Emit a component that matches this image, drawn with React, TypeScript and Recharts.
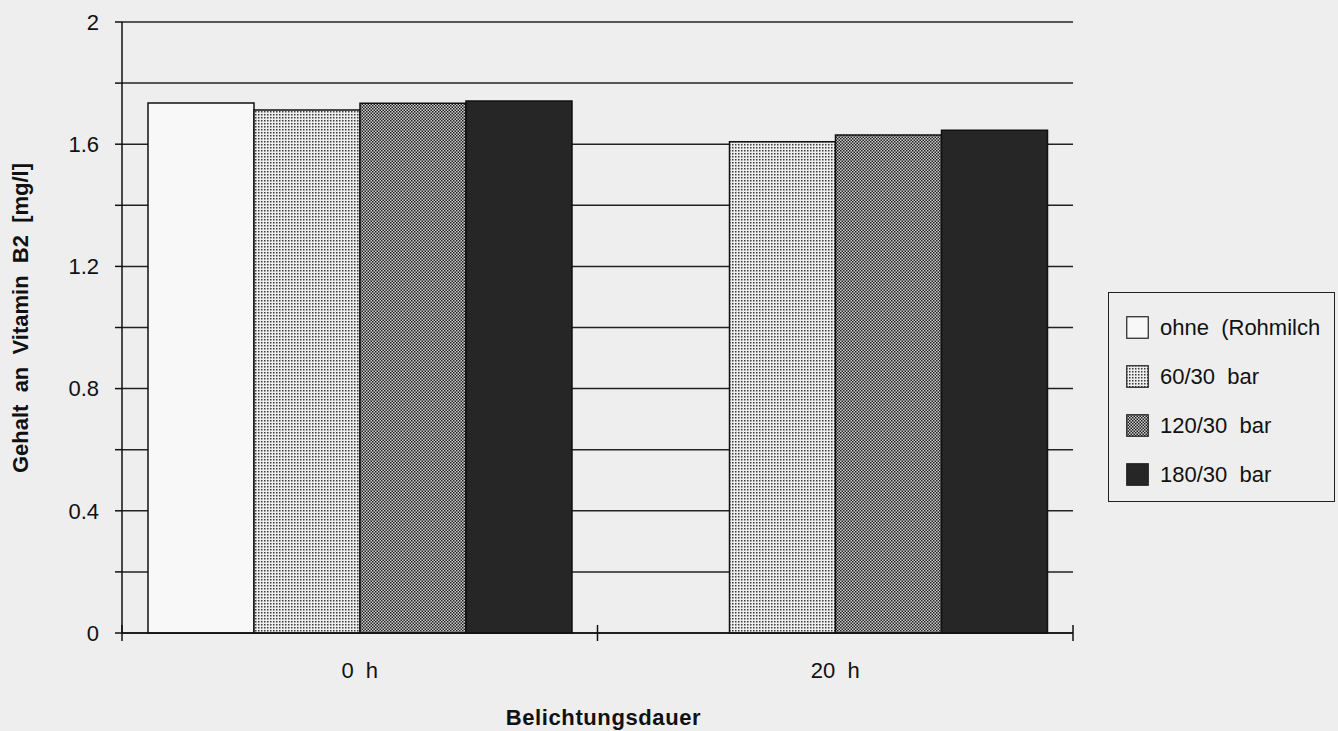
import React from 'react';
import { BarChart, Bar, XAxis, YAxis, CartesianGrid } from 'recharts';

const categories = ['0 h', '20 h'];
const ohneRohmilch = [1.735, null];
const bar60 = [1.712, 1.608];
const bar120 = [1.734, 1.63];
const bar180 = [1.741, 1.646];
const yTicks = [0, 0.2, 0.4, 0.6, 0.8, 1.0, 1.2, 1.4, 1.6, 1.8, 2.0];

const seriesNames = ['ohne  (Rohmilch', '60/30  bar', '120/30  bar', '180/30  bar'];
const seriesKeys = ['ohne', 'b60', 'b120', 'b180'];
const seriesFills = ['#f8f8f8', 'url(#p60)', 'url(#p120)', '#262626'];

const data = categories.map((c, i) => ({
    name: c,
    ohne: ohneRohmilch[i],
    b60: bar60[i],
    b120: bar120[i],
    b180: bar180[i],
}));

const FONT = '"Liberation Sans", Arial, Helvetica, sans-serif';
const BG = '#eeeeee';

const XTick = (props: any) => {
    const { x, y, payload } = props;
    const half = payload && payload.offset ? payload.offset : 237.75;
    const last = payload.value === categories[categories.length - 1];
    return (
        <g>
            <line x1={x - half} x2={x - half} y1={y - 8} y2={y + 8} stroke="#111" strokeWidth={1.5} />
            {last && <line x1={x + half} x2={x + half} y1={y - 8} y2={y + 8} stroke="#111" strokeWidth={1.5} />}
            <text x={x} y={y + 45} textAnchor="middle" fontSize={22} fontFamily={FONT} fill="#111" xmlSpace="preserve">
                {String(payload.value).replace(' ', '  ')}
            </text>
        </g>
    );
};

const YLabel = () => (
    <text
        x={28}
        y={318}
        transform="rotate(-90, 28, 318)"
        textAnchor="middle"
        fontSize={22}
        fontWeight="bold"
        fontFamily={FONT}
        fill="#111"
        xmlSpace="preserve"
    >
        {'Gehalt  an  Vitamin  B2  [mg/l]'}
    </text>
);

function LegendBox() {
    return (
        <div
            style={{
                position: 'absolute',
                left: 1108,
                top: 292,
                width: 227,
                height: 210,
                border: '1.5px solid #222',
                boxSizing: 'border-box',
                paddingTop: 10,
                paddingLeft: 17,
                fontFamily: FONT,
                fontSize: 22,
                color: '#111',
            }}
        >
            {seriesNames.map((n, i) => (
                <div key={n} style={{ display: 'flex', alignItems: 'center', height: 49 }}>
                    <svg width={23} height={23} style={{ marginRight: 11 }}>
                        <rect x={0.75} y={0.75} width={21.5} height={21.5} fill={seriesFills[i]} stroke="#222" strokeWidth={1.2} />
                    </svg>
                    <span style={{ whiteSpace: 'pre' }}>{n}</span>
                </div>
            ))}
        </div>
    );
}

export default function App() {
    return (
        <div style={{ position: 'fixed', left: 0, top: 0, width: 1338, height: 731, background: BG }}>
            <BarChart
                width={1338}
                height={731}
                data={data}
                margin={{ top: 22, right: 265, bottom: 0, left: 0 }}
                barCategoryGap={26}
                barGap={0}
            >
                <defs>
                    <pattern id="p60" width="3" height="3" patternUnits="userSpaceOnUse">
                        <rect width="3" height="3" fill="#eeeeee" />
                        <rect x="0" y="0" width="1.5" height="1.5" fill="#3a3a3a" />
                    </pattern>
                    <pattern id="p120" width="3" height="3" patternUnits="userSpaceOnUse">
                        <rect width="3" height="3" fill="#d0d0d0" />
                        <rect x="0" y="0" width="1.5" height="1.5" fill="#1e1e1e" />
                        <rect x="1.5" y="1.5" width="1.5" height="1.5" fill="#1e1e1e" />
                    </pattern>
                </defs>
                <CartesianGrid horizontal vertical={false} stroke="#222" strokeWidth={1.5} />
                <XAxis
                    dataKey="name"
                    height={98}
                    tickLine={false}
                    tickSize={0}
                    tickMargin={0}
                    axisLine={{ stroke: '#111', strokeWidth: 1.5 }}
                    tick={<XTick />}
                    interval={0}
                    label={{
                        value: 'Belichtungsdauer',
                        position: 'insideBottom',
                        offset: 6,
                        dx: 6,
                        fontSize: 22,
                        fontWeight: 'bold',
                        fontFamily: FONT,
                        fill: '#111',
                        style: { letterSpacing: '0.6px' },
                    }}
                />
                <YAxis
                    width={122}
                    domain={[0, 2]}
                    ticks={yTicks}
                    interval={0}
                    tickSize={7}
                    tickMargin={16}
                    tickFormatter={(v: number) => (Math.round(v * 10) % 4 === 0 ? String(Math.round(v * 10) / 10) : '')}
                    tick={{ fontSize: 22, fontFamily: FONT, fill: '#111' }}
                    tickLine={{ stroke: '#111', strokeWidth: 1.5 }}
                    axisLine={{ stroke: '#111', strokeWidth: 1.5 }}
                    label={<YLabel />}
                />
                {seriesKeys.map((k, i) => (
                    <Bar
                        key={k}
                        dataKey={k}
                        name={seriesNames[i]}
                        fill={seriesFills[i]}
                        stroke="#111"
                        strokeWidth={1.5}
                        isAnimationActive={false}
                    />
                ))}
            </BarChart>
            <LegendBox />
        </div>
    );
}
